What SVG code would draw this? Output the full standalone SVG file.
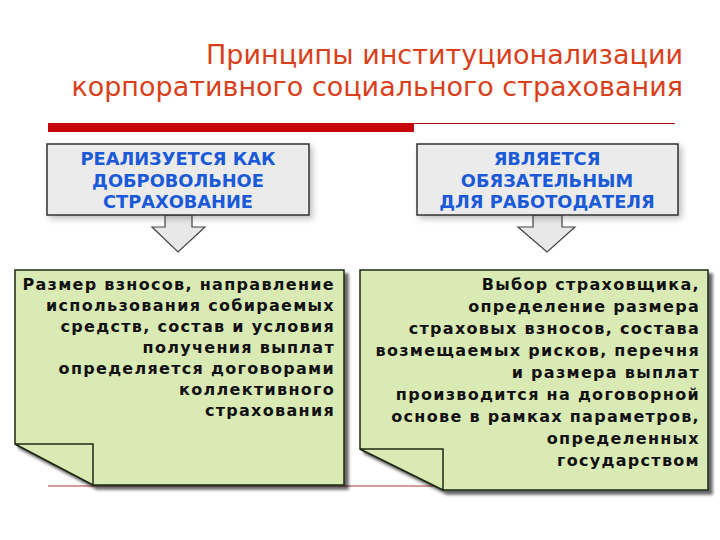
<svg xmlns="http://www.w3.org/2000/svg" width="720" height="540" viewBox="0 0 720 540">
<defs>
<filter id="sh" x="-10%" y="-10%" width="130%" height="140%">
<feDropShadow dx="3" dy="3" stdDeviation="3" flood-color="#000" flood-opacity="0.25"/>
</filter>
<filter id="nsh" x="-10%" y="-10%" width="130%" height="130%">
<feDropShadow dx="4" dy="4" stdDeviation="1.5" flood-color="#000" flood-opacity="0.6"/>
</filter>
<style>
.title{font-family:"DejaVu Sans",Verdana,sans-serif;font-size:27px;fill:#d9401a;text-anchor:end}
.box{fill:#ebebeb;stroke:#333;stroke-width:1.5}
.arr{fill:#e8e8e8;stroke:#444;stroke-width:1.2}
.bt{font-family:"DejaVu Sans",Verdana,sans-serif;font-weight:bold;font-size:17.8px;fill:#1a5ad8;text-anchor:middle}
.note{fill:#d9eab4;stroke:#1e2a14;stroke-width:1.5}
.nt{font-family:"DejaVu Sans",Verdana,sans-serif;font-weight:bold;font-size:16px;letter-spacing:1.3px;fill:#111;text-anchor:end}
</style>
</defs>
<rect width="720" height="540" fill="#fff"/>
<g id="title">
<text class="title" x="683" y="64">Принципы институционализации</text>
<text class="title" x="683" y="96">корпоративного социального страхования</text>
</g>
<g id="rule">
<rect x="48" y="123" width="366" height="9" fill="#c8070a"/>
<line x1="414" y1="123.5" x2="675" y2="123.5" stroke="#b01010" stroke-width="1"/>
<line x1="48" y1="486" x2="675" y2="486" stroke="#c87878" stroke-width="1.5"/>
</g>
<g id="connectors">
<polygon class="arr" points="165,215 192,215 192,227 205,227 178,252 152,227 165,227"/>
<polygon class="arr" points="533,215 562,215 562,227 575,227 547,252 518,227 533,227"/>
</g>
<g id="box1">
<rect class="box" x="47" y="144" width="262" height="71" filter="url(#sh)"/>
<text class="bt" x="178" y="165">РЕАЛИЗУЕТСЯ КАК</text>
<text class="bt" x="178" y="187">ДОБРОВОЛЬНОЕ</text>
<text class="bt" x="178" y="208">СТРАХОВАНИЕ</text>
</g>
<g id="box2">
<rect class="box" x="417" y="144" width="261" height="71" filter="url(#sh)"/>
<text class="bt" x="547" y="165">ЯВЛЯЕТСЯ</text>
<text class="bt" x="547" y="187">ОБЯЗАТЕЛЬНЫМ</text>
<text class="bt" x="547" y="208">ДЛЯ РАБОТОДАТЕЛЯ</text>
</g>
<g id="note1">
<path class="note" d="M15,270 H344 V485 H93 L15,444 Z" filter="url(#nsh)"/>
<path class="note" d="M15,444 H93 V485 Z"/>
<text class="nt" x="335" y="290">Размер взносов, направление</text>
<text class="nt" x="335" y="311">использования собираемых</text>
<text class="nt" x="335" y="332">средств, состав и условия</text>
<text class="nt" x="335" y="353">получения выплат</text>
<text class="nt" x="335" y="374">определяется договорами</text>
<text class="nt" x="335" y="395">коллективного</text>
<text class="nt" x="335" y="416">страхования</text>
</g>
<g id="note2">
<path class="note" d="M360,270 H708 V490 H443 L360,449 Z" filter="url(#nsh)"/>
<path class="note" d="M360,449 H443 V490 Z"/>
<text class="nt" x="700" y="290">Выбор страховщика,</text>
<text class="nt" x="700" y="312">определение размера</text>
<text class="nt" x="700" y="334">страховых взносов, состава</text>
<text class="nt" x="700" y="356">возмещаемых рисков, перечня</text>
<text class="nt" x="700" y="378">и размера выплат</text>
<text class="nt" x="700" y="400">производится на договорной</text>
<text class="nt" x="700" y="422">основе в рамках параметров,</text>
<text class="nt" x="700" y="444">определенных</text>
<text class="nt" x="700" y="466">государством</text>
</g>
</svg>
